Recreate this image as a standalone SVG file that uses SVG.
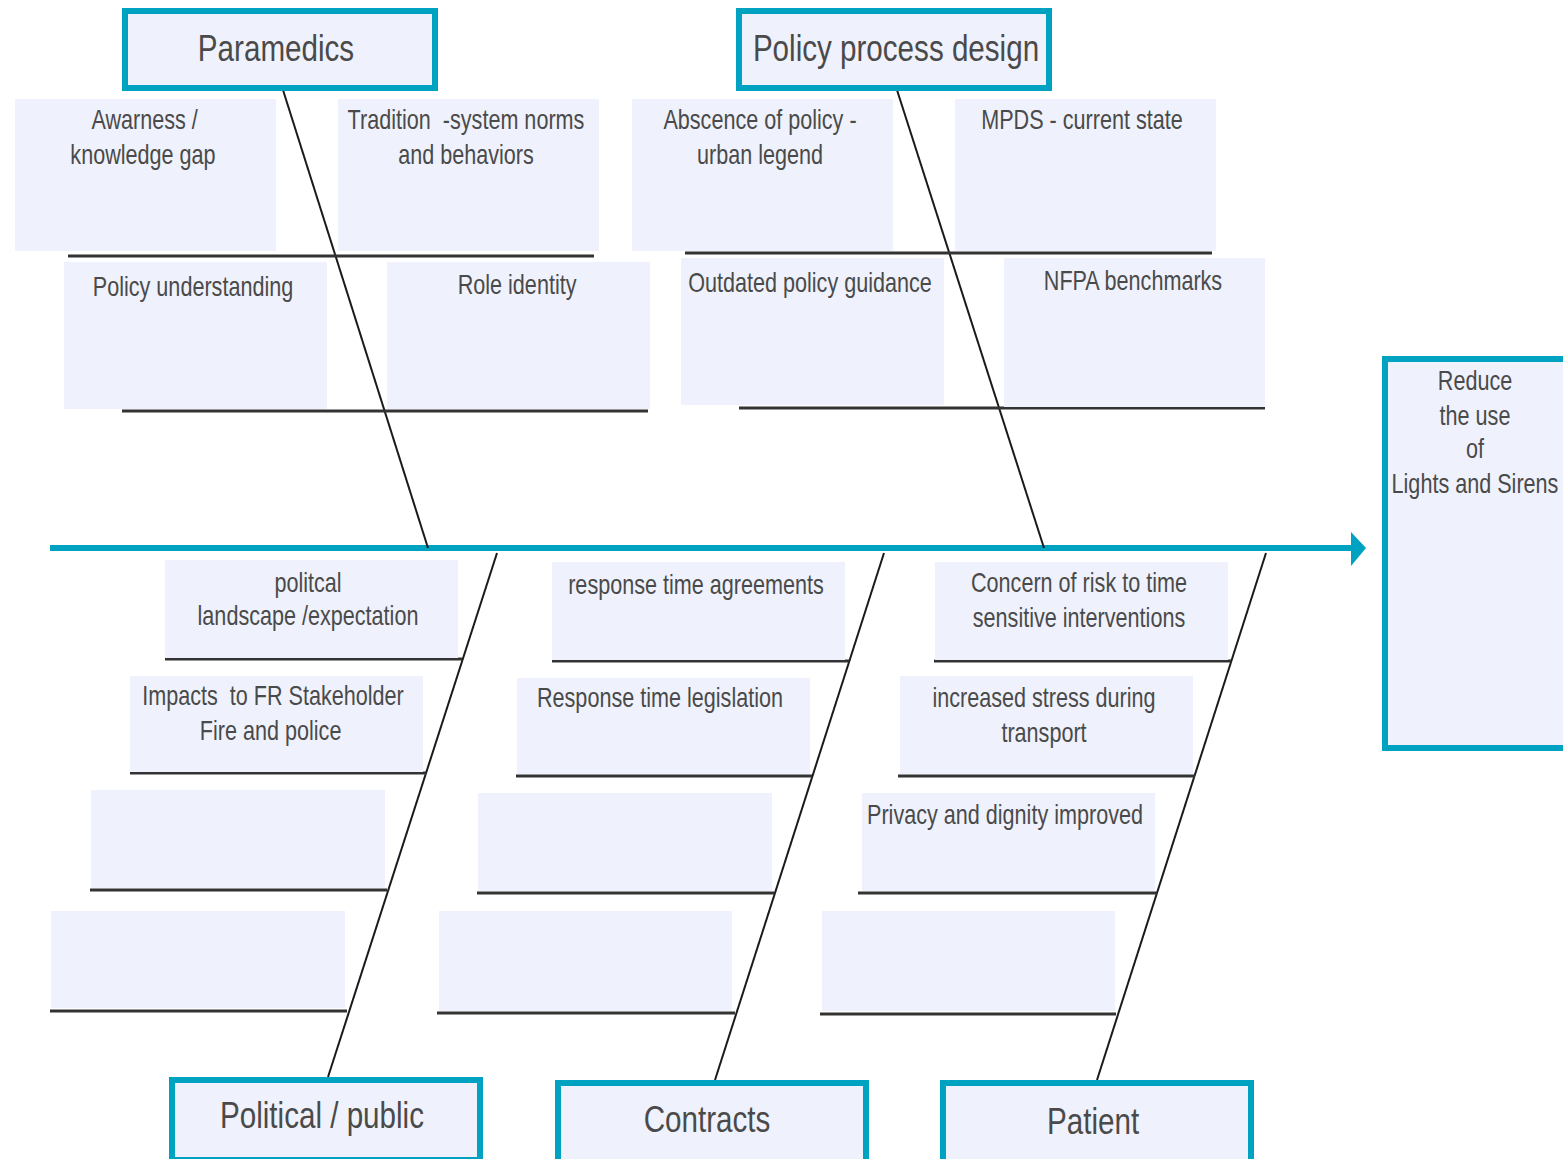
<svg xmlns="http://www.w3.org/2000/svg" width="1563" height="1159" viewBox="0 0 1563 1159">
<style>
.cat{fill:#eff2fc;stroke:#00a2c2;stroke-width:6}
.sub{fill:#eff2fc}
.ln{stroke:#333;stroke-width:3}
.bone{stroke:#1a1a1a;stroke-width:2}
.t{font-family:"Liberation Sans",Arial,sans-serif;fill:#4a4a4a;text-anchor:middle;white-space:pre;transform-box:fill-box;transform-origin:center;transform:scaleX(0.8)}
.s{font-size:27px}
.c{font-size:37px}
</style>
<rect width="1563" height="1159" fill="#fff"/>
<g id="connectors">
<line x1="50" y1="548" x2="1353" y2="548" stroke="#00a2c2" stroke-width="6"/>
<polygon points="1351,532 1366,548 1351,566" fill="#00a2c2"/>
<line class="bone" x1="283" y1="90" x2="428" y2="548"/>
<line class="bone" x1="897" y1="90" x2="1044" y2="548"/>
<line class="bone" x1="497" y1="553" x2="328" y2="1077"/>
<line class="bone" x1="884" y1="553" x2="715" y2="1080"/>
<line class="bone" x1="1266" y1="553" x2="1097" y2="1080"/>
<line class="ln" x1="68" y1="256" x2="594" y2="256"/>
<line class="ln" x1="122" y1="411" x2="648" y2="411"/>
<line class="ln" x1="685" y1="253" x2="1212" y2="253"/>
<line class="ln" x1="739" y1="408" x2="1265" y2="408"/>
<line class="ln" x1="165" y1="659" x2="462" y2="659"/>
<line class="ln" x1="130" y1="773" x2="426" y2="773"/>
<line class="ln" x1="90" y1="890" x2="387" y2="890"/>
<line class="ln" x1="50" y1="1011" x2="347" y2="1011"/>
<line class="ln" x1="552" y1="661" x2="849" y2="661"/>
<line class="ln" x1="516" y1="776" x2="812" y2="776"/>
<line class="ln" x1="477" y1="893" x2="774" y2="893"/>
<line class="ln" x1="437" y1="1013" x2="735" y2="1013"/>
<line class="ln" x1="934" y1="661" x2="1231" y2="661"/>
<line class="ln" x1="898" y1="776" x2="1195" y2="776"/>
<line class="ln" x1="858" y1="893" x2="1157" y2="893"/>
<line class="ln" x1="820" y1="1014" x2="1116" y2="1014"/>
</g>
<g id="cat-paramedics"><rect class="cat" x="125" y="11" width="310" height="77"/><text class="t c" x="276" y="61">Paramedics</text></g>
<g id="cat-policy"><rect class="cat" x="739" y="11" width="310" height="77"/><text class="t c" x="896" y="61">Policy process design</text></g>
<g id="cat-political"><rect class="cat" x="172" y="1080" width="308" height="80"/><text class="t c" x="322" y="1128">Political / public</text></g>
<g id="cat-contracts"><rect class="cat" x="558" y="1083" width="308" height="80"/><text class="t c" x="707" y="1132">Contracts</text></g>
<g id="cat-patient"><rect class="cat" x="943" y="1083" width="308" height="80"/><text class="t c" x="1093" y="1134">Patient</text></g>
<g id="effect"><rect class="cat" x="1385" y="359" width="190" height="389"/>
<text class="t s"><tspan x="1475" y="390">Reduce</tspan><tspan x="1475" y="425">the use</tspan><tspan x="1475" y="458">of</tspan><tspan x="1475" y="493">Lights and Sirens</tspan></text></g>
<g id="c-awareness"><rect class="sub" x="15" y="99" width="261" height="152"/><text class="t s"><tspan x="145" y="129">Awarness /</tspan><tspan x="143" y="164">knowledge gap</tspan></text></g>
<g id="c-tradition"><rect class="sub" x="338" y="99" width="261" height="152"/><text class="t s"><tspan x="466" y="129">Tradition  -system norms</tspan><tspan x="466" y="164">and behaviors</tspan></text></g>
<g id="c-policyund"><rect class="sub" x="64" y="262" width="263" height="147"/><text class="t s" x="193" y="296">Policy understanding</text></g>
<g id="c-role"><rect class="sub" x="387" y="262" width="263" height="147"/><text class="t s" x="517" y="294">Role identity</text></g>
<g id="c-absence"><rect class="sub" x="632" y="99" width="261" height="152"/><text class="t s"><tspan x="760" y="129">Abscence of policy -</tspan><tspan x="760" y="164">urban legend</tspan></text></g>
<g id="c-mpds"><rect class="sub" x="955" y="99" width="261" height="152"/><text class="t s" x="1082" y="129">MPDS - current state</text></g>
<g id="c-outdated"><rect class="sub" x="681" y="258" width="263" height="147"/><text class="t s" x="810" y="292">Outdated policy guidance</text></g>
<g id="c-nfpa"><rect class="sub" x="1004" y="258" width="261" height="149"/><text class="t s" x="1133" y="290">NFPA benchmarks</text></g>
<g id="c-politcal"><rect class="sub" x="165" y="560" width="293" height="98"/><text class="t s"><tspan x="308" y="592">politcal</tspan><tspan x="308" y="625">landscape /expectation</tspan></text></g>
<g id="c-impacts"><rect class="sub" x="130" y="676" width="293" height="96"/><text class="t s"><tspan x="273" y="705">Impacts  to FR Stakeholder</tspan><tspan x="270" y="740">Fire and police</tspan></text></g>
<g id="c-pol3"><rect class="sub" x="91" y="790" width="294" height="98"/></g>
<g id="c-pol4"><rect class="sub" x="51" y="911" width="294" height="97"/></g>
<g id="c-rta"><rect class="sub" x="552" y="562" width="293" height="98"/><text class="t s" x="696" y="594">response time agreements</text></g>
<g id="c-rtl"><rect class="sub" x="517" y="678" width="293" height="96"/><text class="t s" x="660" y="707">Response time legislation</text></g>
<g id="c-con3"><rect class="sub" x="478" y="793" width="294" height="98"/></g>
<g id="c-con4"><rect class="sub" x="439" y="911" width="293" height="100"/></g>
<g id="c-concern"><rect class="sub" x="935" y="562" width="293" height="98"/><text class="t s"><tspan x="1079" y="592">Concern of risk to time</tspan><tspan x="1079" y="627">sensitive interventions</tspan></text></g>
<g id="c-stress"><rect class="sub" x="900" y="676" width="293" height="98"/><text class="t s"><tspan x="1044" y="707">increased stress during</tspan><tspan x="1044" y="742">transport</tspan></text></g>
<g id="c-privacy"><rect class="sub" x="862" y="793" width="293" height="98"/><text class="t s" x="1005" y="824">Privacy and dignity improved</text></g>
<g id="c-pat4"><rect class="sub" x="822" y="911" width="293" height="100"/></g>
</svg>
